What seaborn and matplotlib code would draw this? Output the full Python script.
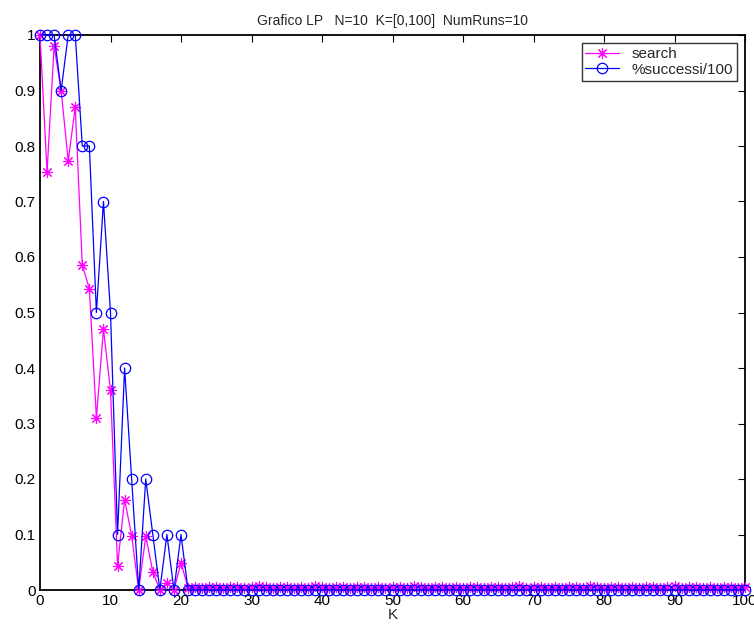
import matplotlib
matplotlib.use("Agg")
import matplotlib.pyplot as plt
import seaborn as sns
import numpy as np
import pandas as pd

sns.set_theme(style="white")
plt.rcParams['font.family'] = ['Liberation Sans', 'DejaVu Sans']

k_values = list(range(0, 101))

search_head = [1.0, 0.753, 0.98, 0.90, 0.773, 0.87, 0.585, 0.543, 0.31, 0.47,
               0.36, 0.044, 0.163, 0.098, 0.0, 0.097, 0.033, 0.0, 0.013, 0.0,
               0.049]
search_tail = [0.004, 0.005, 0.004, 0.006, 0.005, 0.004, 0.005, 0.006, 0.004, 0.005,
               0.008, 0.005, 0.004, 0.006, 0.005, 0.004, 0.005, 0.004, 0.007, 0.005,
               0.004, 0.006, 0.005, 0.004, 0.005, 0.006, 0.004, 0.005, 0.004, 0.005,
               0.006, 0.004, 0.007, 0.005, 0.004, 0.005, 0.006, 0.004, 0.005, 0.004,
               0.006, 0.005, 0.004, 0.005, 0.006, 0.004, 0.005, 0.008, 0.004, 0.005,
               0.006, 0.004, 0.005, 0.004, 0.005, 0.006, 0.004, 0.007, 0.005, 0.004,
               0.005, 0.006, 0.004, 0.005, 0.004, 0.005, 0.006, 0.004, 0.005, 0.007,
               0.004, 0.005, 0.006, 0.004, 0.005, 0.004, 0.006, 0.005, 0.004, 0.006]
search = search_head + search_tail

success_head = [1.0, 1.0, 1.0, 0.9, 1.0, 1.0, 0.8, 0.8, 0.5, 0.7,
                0.5, 0.1, 0.4, 0.2, 0.0, 0.2, 0.1, 0.0, 0.1, 0.0,
                0.1]
success = success_head + [0.0] * (101 - len(success_head))

df = pd.DataFrame({"K": k_values, "search": search, "success": success})

fig = plt.figure(figsize=(7.54, 6.28), dpi=100)
ax = fig.add_axes([40 / 754, 1 - 590 / 628, 705 / 754, 555 / 628])

# eight-armed asterisk marker
asterisk = (8, 2, 0)

sns.lineplot(data=df, x="K", y="search", ax=ax, color="#ff00ff", lw=0.9,
             marker=asterisk, markersize=8, markeredgewidth=0.8,
             markeredgecolor="#ff00ff", label="search", clip_on=False)
sns.lineplot(data=df, x="K", y="success", ax=ax, color="#0000ff", lw=0.9,
             marker="o", markersize=7.5, markerfacecolor="none",
             markeredgecolor="#0000ff", markeredgewidth=0.9,
             label="%successi/100", clip_on=False)

ax.set_xlim(0, 100)
ax.set_ylim(0, 1)
ax.set_xticks(np.arange(0, 101, 10))
ax.set_yticks(np.arange(0, 1.01, 0.1))
ax.set_yticklabels(["0", "0.1", "0.2", "0.3", "0.4", "0.5", "0.6", "0.7",
                    "0.8", "0.9", "1"])
ax.tick_params(direction="in", length=5, width=0.8, top=True, right=True,
               labelsize=11, colors="black", pad=3)
for s in ax.spines.values():
    s.set_color("black")
    s.set_linewidth(1.3)
    s.set_zorder(1)
ax.set_xlabel("K", fontsize=11, labelpad=0)
ax.set_ylabel("")
ax.set_title("Grafico LP   N=10  K=[0,100]  NumRuns=10", fontsize=10, pad=7)

leg = ax.legend(loc="upper right", fontsize=11, frameon=True, fancybox=False,
                edgecolor="black", borderpad=0.25, handlelength=2.2,
                labelspacing=0.1, borderaxespad=0.55)
leg.get_frame().set_linewidth(1.0)

fig.savefig("out.png", dpi=100)
